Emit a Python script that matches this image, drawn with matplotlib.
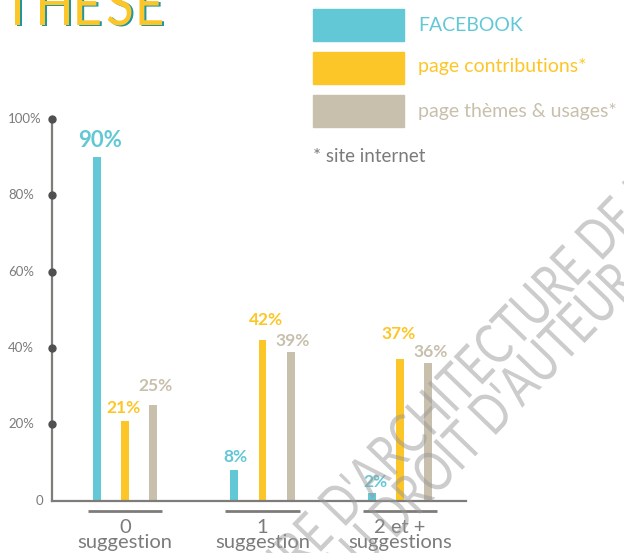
import numpy as np
import matplotlib
matplotlib.use("Agg")
import matplotlib.pyplot as plt
from matplotlib.patches import Rectangle, PathPatch
from matplotlib.textpath import TextPath, text_to_path
from matplotlib.font_manager import FontProperties
from matplotlib.transforms import Affine2D, IdentityTransform, blended_transform_factory

# data
groups = ["0", "1", "2 et +"]
group_sub = ["suggestion", "suggestion", "suggestions"]
series = ["FACEBOOK", "page contributions*", "page thèmes & usages*"]
facebook = [90, 8, 2]
contributions = [21, 42, 37]
themes = [25, 39, 36]
yticks = [0, 20, 40, 60, 80, 100]

colors = ["#62c8d5", "#fdc628", "#c8c0ad"]
gray = "#7b7b7b"
axis_gray = "#7d7c78"
W, H = 624, 553

plt.rcParams["font.family"] = ["Lato", "DejaVu Sans"]

fig = plt.figure(figsize=(W / 100, H / 100), dpi=100)

def fx(px):
    return px / W

def fy(py):
    return 1 - py / H

# axes: x spine from px 52 to 466, y from 500.7 (0) to 119 (100)
ax = fig.add_axes([fx(52), fy(500.7), (466 - 52) / W, (500.7 - 119) / H])
ax.set_xlim(-0.531, 2.48)
ax.set_ylim(0, 100)
for s in ["top", "right"]:
    ax.spines[s].set_visible(False)
for s in ["left", "bottom"]:
    ax.spines[s].set_color(axis_gray)
    ax.spines[s].set_linewidth(1.6)
ax.set_xticks([])
ax.set_yticks([])
ax.patch.set_alpha(0)

x = np.arange(len(groups))
off = 0.207
bw = 0.058
all_vals = [facebook, contributions, themes]
for i, vals in enumerate(all_vals):
    ax.bar(x + (i - 1) * off, vals, width=bw, color=colors[i], zorder=2)

# value labels (hand-nudged like the original)
gaps = [[10, 8, 6], [8, 15, 20], [14, 6, 6]]
dxs = [[4, 1, 4], [-2, 4, -1], [2, 2, 2]]
for i, vals in enumerate(all_vals):
    for j, v in enumerate(vals):
        size = 16 if v == max(facebook) else 12.5
        ax.annotate(f"{v}%", (x[j] + (i - 1) * off, v),
                    xytext=(dxs[i][j], gaps[i][j]), textcoords="offset pixels",
                    ha="center", va="baseline", color=colors[i],
                    fontsize=size, fontweight="bold", annotation_clip=False)

# y ticks: dots + labels
ax.plot([-0.531] * (len(yticks) - 1), yticks[1:], "o", ms=5, color="#505050",
        clip_on=False, zorder=3)
tr = blended_transform_factory(fig.transFigure, ax.transData)
for t in yticks:
    if t == 0:
        ax.text(fx(43), t, "0", transform=tr, ha="right", va="center",
                color=gray, fontsize=9.5)
    else:
        ax.text(fx(8), t, f"{t}%", transform=tr, ha="left", va="center",
                color=gray, fontsize=9.5)

# category labels with short underline
trx = blended_transform_factory(ax.transData, fig.transFigure)
for j, g in enumerate(groups):
    ax.plot([x[j] - 0.27, x[j] + 0.27], [fy(510.7)] * 2, color=axis_gray,
            lw=2, transform=trx, clip_on=False, solid_capstyle="butt")
    ax.text(x[j], fy(532.7), g, transform=trx, ha="center", va="baseline",
            color=gray, fontsize=14.5)
    ax.text(x[j], fy(548.3), group_sub[j], transform=trx, ha="center",
            va="baseline", color=gray, fontsize=14.5)

# legend
sw_top = [9, 52, 95]
txt_base = [31, 72, 117]
for i, name in enumerate(series):
    fig.patches.append(Rectangle((fx(313), fy(sw_top[i] + 32)), 91 / W, 32 / H,
                                 transform=fig.transFigure, color=colors[i]))
    fig.text(fx(418), fy(txt_base[i]), name, ha="left", va="baseline",
             color=colors[i], fontsize=14)
fig.text(fx(313), fy(162), "* site internet", ha="left", va="baseline",
         color=gray, fontsize=13.5)

base_font = FontProperties(family="Lato")

def ink_w(s, size):
    p = base_font.copy()
    p.set_size(size)
    return text_to_path.get_text_width_height_descent(s, p, ismath=False)[0]

# title, cut off by the top-left corner: narrow, widely spaced letters
title = "SYNTHESE"
t_size, t_xs, t_gap = 60, 0.85, 8
glyphs = [TextPath((0, 0), ch, size=t_size, prop=base_font) for ch in title]
right = 162
lefts = []
for tp in glyphs[::-1]:
    w = tp.get_extents().width * t_xs
    lefts.insert(0, right - w)
    right = right - w - t_gap
for dx, dy, c in [(2, -1, "#1f96a0"), (0, 0, "#fdc628")]:
    for tp, lx in zip(glyphs, lefts):
        bx = tp.get_extents().x0 * t_xs
        tf = Affine2D().scale(t_xs, 1).translate(lx - bx + dx, H - 25 + dy)
        fig.patches.append(PathPatch(tf.transform_path(tp), facecolor=c, lw=0,
                                     transform=IdentityTransform()))

# watermark: diagonal light-grey text, placed from the "D" it shows
wm_angle = 46
wm_stretch = 1.3
d_unit = ink_w("D'ARCHITECTURE D", 100) - ink_w("D", 100)
wm_size = 100 * 370 / d_unit
ca, sa = np.cos(np.radians(wm_angle)), np.sin(np.radians(wm_angle))
for s, prefix, ax_px, ay_px in [
        ("SUPERIEURE D'ARCHITECTURE DE LYON", "SUPERIEURE D", 340, 503),
        ("DOCUMENT SOUMIS AU DROIT D'AUTEUR", "DOCUMENT SOUMIS AU DROIT D", 490, 412)]:
    u = ink_w(prefix, wm_size) - ink_w("D", wm_size) / 2
    v = 0.36 * wm_size * wm_stretch
    ox = ax_px - (u * ca - v * sa)
    oy = (H - ay_px) - (u * sa + v * ca)
    tp = TextPath((0, 0), s, size=wm_size, prop=base_font)
    tf = Affine2D().scale(1, wm_stretch).rotate_deg(wm_angle).translate(ox, oy)
    patch = PathPatch(tf.transform_path(tp), facecolor="#9a9a9a", alpha=0.5,
                      lw=0, transform=IdentityTransform(), zorder=10)
    fig.patches.append(patch)

fig.savefig("out.png", dpi=100)
